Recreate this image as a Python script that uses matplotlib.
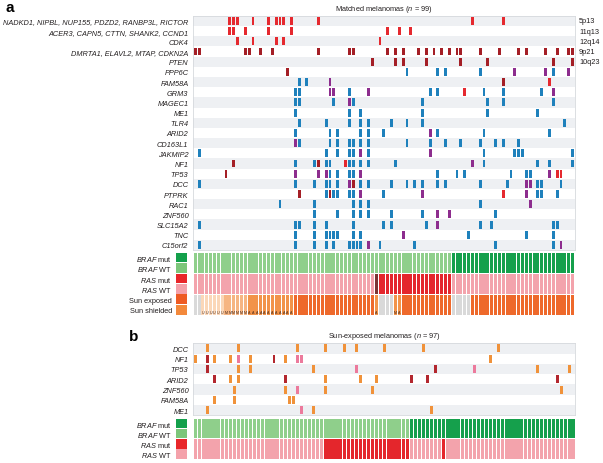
import matplotlib.pyplot as plt

plt.rcParams['font.family'] = ['Liberation Sans', 'DejaVu Sans']
plt.rcParams['mathtext.fontset'] = 'custom'
plt.rcParams['mathtext.it'] = 'Liberation Sans:italic'
plt.rcParams['mathtext.rm'] = 'Liberation Sans'

# ---- panel a data -------------------------------------------------------
rows_a = ['NADKD1', 'ACER3', 'CDK4', 'DMRTA1', 'PTEN', 'PPP6C', 'FAM58A', 'GRM3',
          'MAGEC1', 'ME1', 'TLR4', 'ARID2', 'CD163L1', 'JAKMIP2', 'NF1', 'TP53',
          'DCC', 'PTPRK', 'RAC1', 'ZNF560', 'SLC15A2', 'TNC', 'C15orf2']
group_labels = {
    'NADKD1': 'NADKD1, NIPBL, NUP155, PDZD2, RANBP3L, RICTOR',
    'ACER3': 'ACER3, CAPN5, CTTN, SHANK2, CCND1',
    'DMRTA1': 'DMRTA1, ELAVL2, MTAP, CDKN2A',
}
bands_a = ['5p13', '11q13', '12q14', '9p21', '10q23']
n_a = 99

a_amp = {
    'NADKD1': [9, 10, 11, 15, 19, 21, 22, 23, 25, 32, 72, 80],
    'ACER3': [9, 10, 13, 19, 25, 50, 53, 56],
    'CDK4': [11, 15, 21, 23, 48],
    'FAM58A': [92],
    'GRM3': [70],
    'NF1': [39],
    'TP53': [94, 95],
    'PTPRK': [80],
}
a_del = {
    'DMRTA1': [0, 1, 13, 14, 17, 20, 32, 40, 41, 50, 52, 54, 58, 60, 62, 64, 66,
               68, 69, 74, 79, 84, 86, 91, 94, 97, 98],
    'PTEN': [46, 52, 54, 60, 69, 76, 93, 98],
    'PPP6C': [24],
    'FAM58A': [80],
    'NF1': [10, 32],
    'TP53': [8],
    'DCC': [41],
    'PTPRK': [27, 35],
}
a_snv = {
    'PPP6C': [55, 63, 65, 74, 93],
    'FAM58A': [27, 29],
    'GRM3': [26, 27, 40, 61, 63, 75, 80, 90],
    'MAGEC1': [26, 27, 36, 41, 59, 76, 80, 93],
    'ME1': [26, 40, 43, 59, 76, 89],
    'TLR4': [27, 34, 40, 43, 45, 51, 55, 59, 96],
    'ARID2': [26, 35, 37, 43, 45, 49, 63, 75, 92],
    'CD163L1': [27, 35, 37, 40, 41, 43, 45, 55, 61, 65, 69, 74, 78, 80, 84],
    'JAKMIP2': [1, 34, 37, 40, 41, 45, 75, 83, 84, 85, 98],
    'NF1': [26, 31, 34, 35, 40, 41, 43, 45, 52, 75, 89, 92, 98],
    'TP53': [35, 37, 40, 41, 63, 68, 70, 82, 86, 87],
    'DCC': [1, 26, 31, 34, 35, 37, 43, 45, 51, 55, 57, 59, 63, 65, 74, 81, 89, 90, 95],
    'PTPRK': [34, 36, 37, 40, 41, 49, 89, 90, 94],
    'RAC1': [22, 31, 41, 43, 45, 74],
    'ZNF560': [31, 37, 41, 43, 45, 51, 59, 78],
    'SLC15A2': [1, 26, 27, 31, 34, 41, 49, 51, 60, 74, 77, 93, 94],
    'TNC': [26, 31, 34, 35, 36, 37, 41, 43, 71, 86, 93],
    'C15orf2': [1, 26, 31, 34, 36, 40, 41, 42, 43, 48, 57, 78, 93],
}
a_multi = {
    'PPP6C': [83, 91, 97],
    'FAM58A': [35],
    'GRM3': [35, 36, 45, 93],
    'MAGEC1': [40],
    'ARID2': [61],
    'CD163L1': [26],
    'JAKMIP2': [43, 61],
    'NF1': [72],
    'TP53': [26, 32, 34, 43, 92],
    'DCC': [40, 86, 87],
    'PTPRK': [43, 59, 86],
    'RAC1': [87],
    'ZNF560': [63, 66],
    'SLC15A2': [63],
    'TNC': [54],
    'C15orf2': [45, 95],
}

braf_a = ['wt'] * 67 + ['mut'] * 32
ras_a = ['wt'] * 47 + ['other'] + ['mut'] * 19 + ['wt'] * 32
sun_a = (['na'] * 2 + ['pale'] * 6 + ['light'] * 6 + ['shielded'] * 12 + ['exposed'] * 21
         + ['shielded'] + ['na'] * 4 + ['shielded'] * 2 + ['exposed'] * 13 + ['na'] * 5
         + ['exposed'] * 27)
site_a = ([''] * 2 + ['U'] * 6 + ['M'] * 6 + ['A'] * 12 + [''] * 21 + ['A'] + [''] * 4
          + ['M', 'A'] + [''] * 45)

# ---- panel b data -------------------------------------------------------
rows_b = ['DCC', 'NF1', 'TP53', 'ARID2', 'ZNF560', 'FAM58A', 'ME1']
n_b = 97
b_snv = {
    'DCC': [3, 11, 26, 33, 38, 41, 48, 58, 77],
    'NF1': [0, 5, 9, 14, 23, 75],
    'TP53': [11, 14, 30, 87, 95],
    'ARID2': [9, 11, 33, 42, 46],
    'ZNF560': [10, 23, 33, 45, 93],
    'FAM58A': [5, 10, 24, 25],
    'ME1': [3, 30, 60],
}
b_trunc = {
    'NF1': [3, 20],
    'TP53': [3, 61],
    'ARID2': [5, 23, 55, 59, 92],
}
b_multi = {
    'NF1': [11, 26, 27],
    'TP53': [41, 71],
    'ZNF560': [26],
    'ME1': [27],
}
braf_b = ['wt'] * 55 + ['mut'] * 42
ras_b = ['wt'] * 33 + ['mut'] * 22 + ['wt'] * 8 + ['mut'] + ['wt'] * 33

# ---- colours ------------------------------------------------------------
RED, DARKRED, BLUE, PURPLE = '#e5292f', '#a41f26', '#1f81bc', '#8d2d8e'
ORANGE, BDARK, PINK = '#f0923a', '#b3272e', '#ec7a9c'
braf_col = {'mut': '#15a04c', 'wt': '#8fcf8b'}
ras_col = {'mut': '#e4262c', 'wt': '#f3a3ac', 'other': '#7b3434'}
sun_col = {'exposed': '#ee692b', 'shielded': '#f29349', 'light': '#f6b582',
           'pale': '#fbd7b8', 'na': '#d9d9d9'}
TXT = '#231f20'
FS = 5.3


def draw_matrix(ax, rows, n_cols, layers):
    n = len(rows)
    for r in range(0, n, 2):
        ax.axhspan(r - 0.5, r + 0.5, color='#eef0f3', lw=0)
    for data, color in layers:
        for gene, cols in data.items():
            r = rows.index(gene)
            ax.bar(cols, 0.78, bottom=r - 0.39, width=0.74, color=color, lw=0)
    ax.set_xlim(-0.5, n_cols - 0.5)
    ax.set_ylim(n - 0.5, -0.5)
    ax.set_xticks([])
    ax.set_yticks(range(n))
    ax.set_yticklabels([group_labels.get(g, g) for g in rows],
                       fontstyle='italic', fontsize=FS, color=TXT)
    ax.tick_params(length=0, pad=3.5)
    for s in ax.spines.values():
        s.set_color('#d6d9dd')
        s.set_linewidth(0.6)


def draw_annot(ax, tracks, n_cols):
    for r, (values, cmap) in enumerate(tracks):
        ax.bar(range(n_cols), 0.96, bottom=r + 0.02, width=0.8,
               color=[cmap[v] for v in values], lw=0)
    ax.set_xlim(-0.5, n_cols - 0.5)
    ax.set_ylim(len(tracks), 0)
    ax.axis('off')


def draw_legend(ax, labels, colors):
    ax.bar([0.5] * len(labels), 0.47, bottom=[i * 0.5 + 0.015 for i in range(len(labels))],
           width=1.0, color=colors, lw=0)
    ax.set_xlim(0, 1)
    ax.set_ylim(len(labels) / 2, 0)
    ax.set_xticks([])
    ax.set_yticks([i * 0.5 + 0.25 for i in range(len(labels))])
    ax.set_yticklabels(labels, fontsize=FS, color=TXT)
    ax.tick_params(length=0, pad=3)
    for s in ax.spines.values():
        s.set_visible(False)


fig = plt.figure(figsize=(6.03, 4.64), dpi=100)
W, H = 603, 464


def box(x0, y0, x1, y1):
    return [x0 / W, 1 - y1 / H, (x1 - x0) / W, (y1 - y0) / H]


# panel a
ax_a = fig.add_axes(box(193.3, 16.9, 574.5, 251))
draw_matrix(ax_a, rows_a, n_a, [(a_amp, RED), (a_del, DARKRED),
                                (a_snv, BLUE), (a_multi, PURPLE)])
for i, b in enumerate(bands_a):
    ax_a.text(1.012, i, b, transform=ax_a.get_yaxis_transform(),
              fontsize=FS, va='center', ha='left', color=TXT)
ax_a.set_title('Matched melanomas ($\\it{n}$ = 99)', fontsize=FS, pad=4.5, color=TXT)

ax_an = fig.add_axes(box(193.3, 253.3, 574.5, 316))
draw_annot(ax_an, [(braf_a, braf_col), (ras_a, ras_col), (sun_a, sun_col)], n_a)
for c, s in enumerate(site_a):
    if s:
        ax_an.text(c, 2.93, s, fontsize=2.6, ha='center', va='bottom', color='#4a2a1a')

ax_la = fig.add_axes(box(176, 253.3, 187.3, 316))
draw_legend(ax_la, ['$\\it{BRAF}$ mut', '$\\it{BRAF}$ WT', '$\\it{RAS}$ mut',
                    '$\\it{RAS}$ WT', 'Sun exposed', 'Sun shielded'],
            ['#13a04b', '#7cc67a', '#e8262a', '#f4a1aa', '#ee5b23', '#f3893b'])

# panel b
ax_b = fig.add_axes(box(193.3, 344.2, 575, 416.3))
draw_matrix(ax_b, rows_b, n_b, [(b_snv, ORANGE), (b_trunc, BDARK), (b_multi, PINK)])
ax_b.set_title('Sun-exposed melanomas ($\\it{n}$ = 97)', fontsize=FS, pad=4.5, color=TXT)

ax_bn = fig.add_axes(box(193.3, 419.3, 575, 460))
draw_annot(ax_bn, [(braf_b, braf_col), (ras_b, ras_col)], n_b)

ax_lb = fig.add_axes(box(176, 419.3, 187.3, 460))
draw_legend(ax_lb, ['$\\it{BRAF}$ mut', '$\\it{BRAF}$ WT', '$\\it{RAS}$ mut', '$\\it{RAS}$ WT'],
            ['#13a04b', '#7cc67a', '#e8262a', '#f4a1aa'])

fig.text(5 / W, 1 - 8 / H, 'a', fontsize=11, fontweight='bold', va='center', ha='left')
fig.text(129 / W, 1 - 337 / H, 'b', fontsize=11, fontweight='bold', va='center', ha='left')

fig.savefig('out.png', dpi=100)
